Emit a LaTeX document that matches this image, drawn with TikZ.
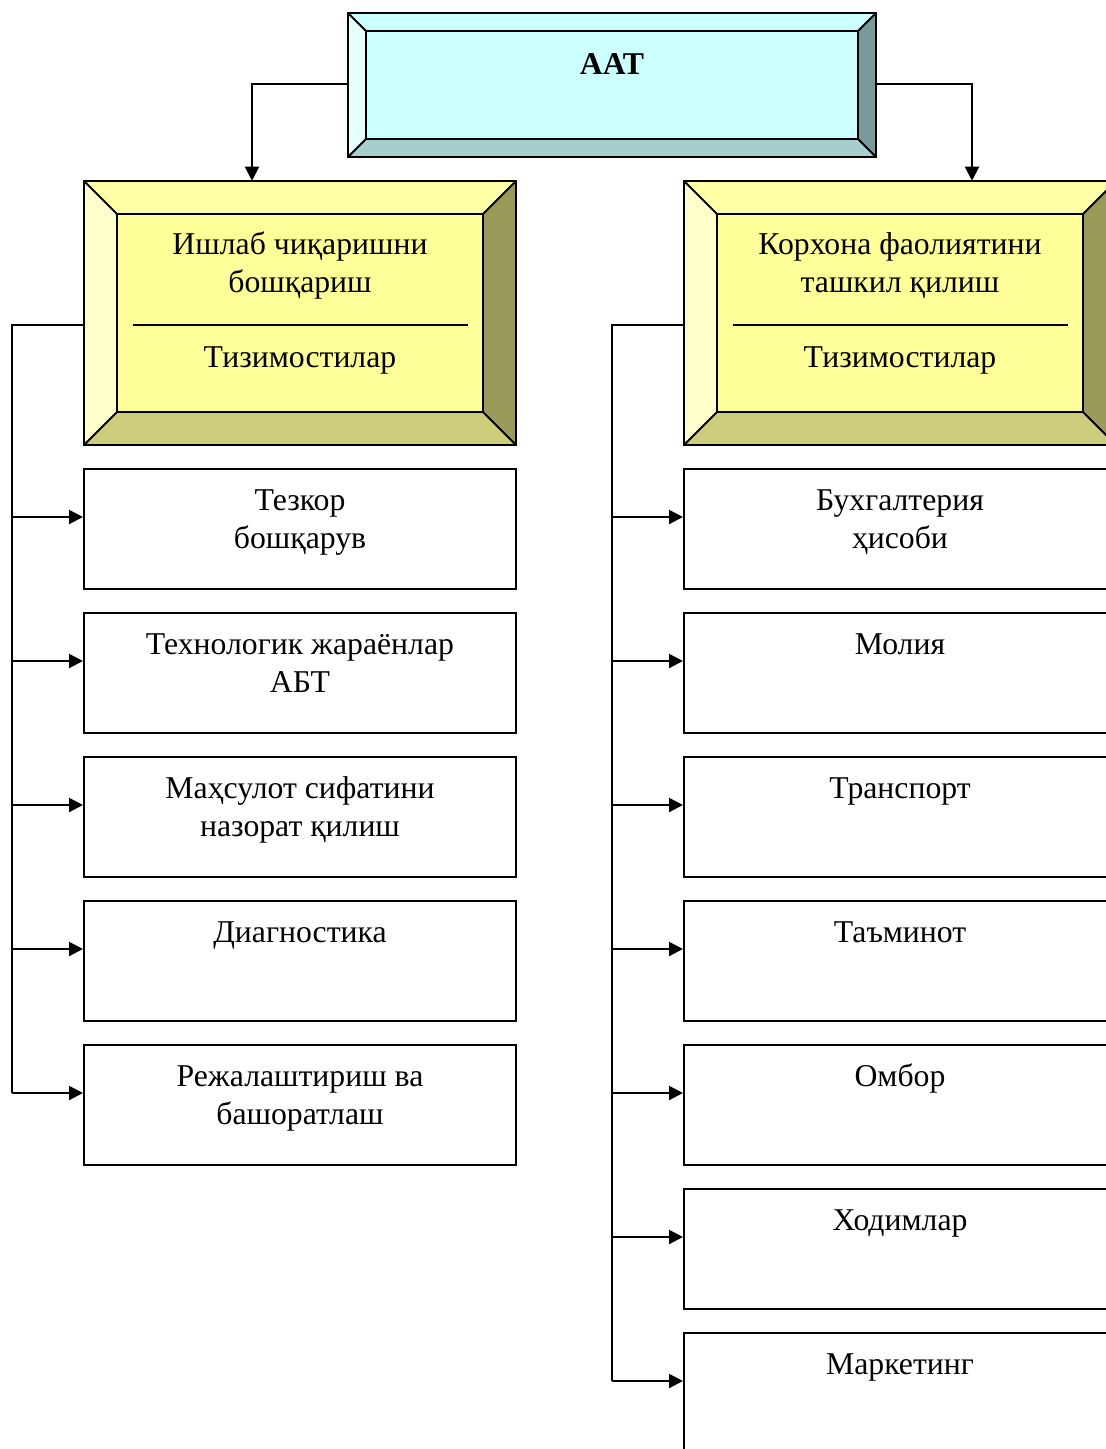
\documentclass[tikz,border=0pt]{standalone}
\usepackage{fontspec}
\setmainfont{Liberation Serif}
\usetikzlibrary{arrows.meta,calc}
\definecolor{cyI}{HTML}{CCFFFF}
\definecolor{cyT}{HTML}{CCFFFF}
\definecolor{cyL}{HTML}{E6FFFF}
\definecolor{cyR}{HTML}{7A9A9A}
\definecolor{cyB}{HTML}{A6CECE}
\definecolor{yeI}{HTML}{FFFF99}
\definecolor{yeT}{HTML}{FFFFA6}
\definecolor{yeL}{HTML}{FFFFCC}
\definecolor{yeR}{HTML}{999959}
\definecolor{yeB}{HTML}{CCCC7A}
\newcommand\bevbox[7]{%
 \fill[#7I] (#2+#6,#3+#6) rectangle (#4-#6,#5-#6);
 \fill[#7T] (#2,#3) -- (#4,#3) -- (#4-#6,#3+#6) -- (#2+#6,#3+#6) -- cycle;
 \fill[#7L] (#2,#3) -- (#2+#6,#3+#6) -- (#2+#6,#5-#6) -- (#2,#5) -- cycle;
 \fill[#7R] (#4,#3) -- (#4,#5) -- (#4-#6,#5-#6) -- (#4-#6,#3+#6) -- cycle;
 \fill[#7B] (#2,#5) -- (#2+#6,#5-#6) -- (#4-#6,#5-#6) -- (#4,#5) -- cycle;
 \draw[line] (#2,#3) rectangle (#4,#5);
 \draw[line] (#2+#6,#3+#6) rectangle (#4-#6,#5-#6);
 \draw[line] (#2,#3) -- (#2+#6,#3+#6) (#4,#3) -- (#4-#6,#3+#6)
   (#2,#5) -- (#2+#6,#5-#6) (#4,#5) -- (#4-#6,#5-#6);
 \node[inner sep=0pt,minimum width={(#4-#2)*0.75pt},minimum height={(#5-#3)*0.75pt}] (#1) at ({(#2+#4)/2},{(#3+#5)/2}) {};
}
\tikzset{
 line/.style={line width=1.5pt},
 conn/.style={line width=1.5pt},
 arr/.style={line width=1.5pt,-{Triangle[length=10.5pt,width=10.5pt]}},
 txt/.style={anchor=base,align=center,inner sep=0pt,font=\fontsize{23.8}{28.1}\selectfont},
 leaf/.style={draw,line width=1.5pt,fill=white,minimum width=324pt,minimum height=90pt,inner sep=0pt},
}
\begin{document}
\begin{tikzpicture}[x=0.75pt,y=-0.75pt]
\useasboundingbox (0,0) rectangle (1106,1449);
\clip (0,0) rectangle (1106,1449);
\fill[white] (0,0) rectangle (1106,1449);
% top box
\bevbox{top}{348}{13}{876}{157}{18}{cy}
\node[txt,font=\fontsize{23.8}{28.1}\selectfont\bfseries] (toptxt) at (612,74) {ААТ};
% yellow boxes
\bevbox{ya}{84}{181}{516}{445}{33}{ye}
\bevbox{yb}{684}{181}{1116}{445}{33}{ye}
\node[txt] (yat) at (300,292) {Ишлаб чиқаришни\\бошқариш};
\node[txt] (ybt) at (900,292) {Корхона фаолиятини\\ташкил қилиш};
\node[txt] (yas) at (300,367) {Тизимостилар};
\node[txt] (ybs) at (900,367) {Тизимостилар};
\draw[line] (133,325) -- (468,325);
\draw[line] (733,325) -- (1068,325);
% connectors from top
\draw[arr] (top.west |- 0,84) -| (ya.north -| 252,0);
\draw[arr] (top.east |- 0,84) -| (yb.north -| 972,0);
% left leaves
\foreach \i/\o/\t in {1/79/{Тезкор\\бошқарув},2/79/{Технологик жараёнлар\\АБТ},3/79/{Маҳсулот сифатини\\назорат қилиш},4/41/{Диагностика},5/79/{Режалаштириш ва\\башоратлаш}}{
 \node[leaf] (l\i) at (300,{469+144*(\i-1)+60}) {};
 \node[txt] (lt\i) at (300,{469+144*(\i-1)+\o}) {\t};
 \coordinate (lc\i) at (12,{469+144*(\i-1)+48});
 \draw[arr] (lc\i) -- (l\i.west |- lc\i);
}
\coordinate (la) at (12,325);
\draw[conn] (ya.west |- la) -- (la) -- (lc5);
% right leaves
\foreach \i/\o/\t in {1/79/{Бухгалтерия\\ҳисоби},2/41/{Молия},3/41/{Транспорт},4/41/{Таъминот},5/41/{Омбор},6/41/{Ходимлар},7/41/{Маркетинг}}{
 \node[leaf] (r\i) at (900,{469+144*(\i-1)+60}) {};
 \node[txt] (rt\i) at (900,{469+144*(\i-1)+\o}) {\t};
 \coordinate (rc\i) at (612,{469+144*(\i-1)+48});
 \draw[arr] (rc\i) -- (r\i.west |- rc\i);
}
\coordinate (ra) at (612,325);
\draw[conn] (yb.west |- ra) -- (ra) -- (rc7);
\end{tikzpicture}
\end{document}
